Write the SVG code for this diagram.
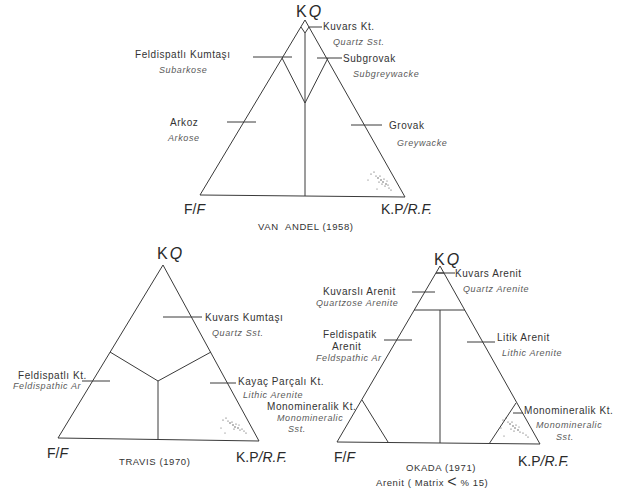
<svg xmlns="http://www.w3.org/2000/svg" width="623" height="492" viewBox="0 0 623 492">
<style>
.ln{stroke:#3a3a3a;stroke-width:1;fill:none}
.t{font-family:"Liberation Sans",Arial,sans-serif;font-size:10px;fill:#333;letter-spacing:0.55px}
.i{font-family:"Liberation Sans",Arial,sans-serif;font-size:9px;font-style:italic;fill:#5a5a5a;letter-spacing:0.6px}
.v{font-family:"Liberation Sans",Arial,sans-serif;font-size:16px;fill:#2a2a2a}
.c{font-family:"Liberation Sans",Arial,sans-serif;font-size:14px;fill:#2a2a2a}
.ti{font-family:"Liberation Sans",Arial,sans-serif;font-size:9.5px;fill:#333;letter-spacing:0.6px}
.it{font-style:italic}
.d{fill:#444}
</style>
<rect width="623" height="492" fill="#fff"/>

<!-- ===== VAN ANDEL (1958) ===== -->
<g id="vanandel-triangle">
<path class="ln" d="M305,20 L200,195 L405,197 Z"/>
<path class="ln" d="M301,27 L305,33 L309,27"/>
<path class="ln" d="M305,33 L305,196"/>
<path class="ln" d="M282,58 L305,103 L328,58"/>
</g>
<g id="connectors">
<path class="ln" d="M309,27 L322,27"/>
<path class="ln" d="M253,57 L292,57"/>
<path class="ln" d="M317,58 L342,58"/>
<path class="ln" d="M227,122 L256,122"/>
<path class="ln" d="M351,125 L382,125"/>
<path class="ln" d="M163,317 L202,317"/>
<path class="ln" d="M82,381 L110,381"/>
<path class="ln" d="M210,383 L236,383"/>
<path class="ln" d="M436,273 L455,273"/>
<path class="ln" d="M412,292 L435,292"/>
<path class="ln" d="M384,340 L412,340"/>
<path class="ln" d="M467,342 L495,342"/>
<path class="ln" d="M513,413 L523,413"/>
</g>
<g id="vanandel-labels">
<text class="v" x="296" y="17">K<tspan class="it" dx="2">Q</tspan></text>
<text class="t" x="323" y="30">Kuvars  Kt.</text>
<text class="i" x="333" y="45">Quartz  Sst.</text>
<text class="t" x="135" y="58">Feldispatlı  Kumtaşı</text>
<text class="i" x="159" y="73">Subarkose</text>
<text class="t" x="343" y="62">Subgrovak</text>
<text class="i" x="353" y="77">Subgreywacke</text>
<text class="t" x="170" y="126">Arkoz</text>
<text class="i" x="168" y="141">Arkose</text>
<text class="t" x="389" y="129">Grovak</text>
<text class="i" x="397" y="146">Greywacke</text>
<text class="c" x="184" y="214">F/<tspan class="it">F</tspan></text>
<text class="c" x="381" y="214">K.P<tspan class="it">/R.F.</tspan></text>
<text class="ti" x="258" y="230">VAN</text>
<text class="ti" x="285" y="230">ANDEL (1958)</text>
</g>
<g id="vanandel-dots" class="d">
<circle cx="371" cy="174" r="0.6"/><circle cx="374" cy="172" r="0.6"/><circle cx="376" cy="176" r="0.6"/>
<circle cx="378" cy="178" r="0.7"/><circle cx="380" cy="176" r="0.6"/><circle cx="381" cy="180" r="0.7"/>
<circle cx="383" cy="182" r="0.7"/><circle cx="384" cy="179" r="0.6"/><circle cx="386" cy="184" r="0.7"/>
<circle cx="385" cy="186" r="0.6"/><circle cx="388" cy="185" r="0.6"/><circle cx="389" cy="188" r="0.6"/>
<circle cx="391" cy="190" r="0.6"/><circle cx="382" cy="184" r="0.6"/><circle cx="368" cy="180" r="0.5"/>
<circle cx="377" cy="189" r="0.5"/><circle cx="379" cy="182" r="0.6"/><circle cx="387" cy="181" r="0.5"/>
</g>

<!-- ===== TRAVIS (1970) ===== -->
<g id="travis-triangle">
<path class="ln" d="M163,265 L58,438 L259,441 Z"/>
<path class="ln" d="M110,352 L158,381 L211,352"/>
<path class="ln" d="M158,381 L158,440"/>
</g>
<g id="travis-labels">
<text class="v" x="157" y="259">K<tspan class="it" dx="2">Q</tspan></text>
<text class="t" x="205" y="321">Kuvars  Kumtaşı</text>
<text class="i" x="212" y="336">Quartz  Sst.</text>
<text class="t" x="18" y="379">Feldispatlı Kt.</text>
<text class="i" x="13" y="389">Feldispathic Ar</text>
<text class="t" x="238" y="385">Kayaç  Parçalı  Kt.</text>
<text class="i" x="243" y="398">Lithic  Arenite</text>
<text class="c" x="47" y="458">F/<tspan class="it">F</tspan></text>
<text class="c" x="236" y="462">K.P<tspan class="it">/R.F.</tspan></text>
<text class="ti" x="119" y="465">TRAVIS  (1970)</text>
</g>
<g id="travis-dots" class="d">
<circle cx="223" cy="420" r="0.6"/><circle cx="226" cy="418" r="0.6"/><circle cx="228" cy="421" r="0.6"/>
<circle cx="230" cy="423" r="0.7"/><circle cx="232" cy="422" r="0.6"/><circle cx="233" cy="425" r="0.7"/>
<circle cx="235" cy="427" r="0.7"/><circle cx="236" cy="424" r="0.6"/><circle cx="238" cy="428" r="0.7"/>
<circle cx="240" cy="430" r="0.6"/><circle cx="242" cy="429" r="0.6"/><circle cx="244" cy="431" r="0.6"/>
<circle cx="234" cy="429" r="0.6"/><circle cx="221" cy="428" r="0.5"/><circle cx="225" cy="433" r="0.5"/>
<circle cx="239" cy="425" r="0.5"/><circle cx="246" cy="433" r="0.6"/>
</g>

<!-- ===== OKADA (1971) ===== -->
<g id="okada-triangle">
<path class="ln" d="M440,266 L337,442 L540,444 Z"/>
<path class="ln" d="M436,273 L444,273"/>
<path class="ln" d="M414,310 L465,310"/>
<path class="ln" d="M440,310 L440,443"/>
<path class="ln" d="M362,400 L388,442"/>
<path class="ln" d="M516,403 L489,444"/>
</g>
<g id="okada-labels">
<text class="v" x="434" y="265">K<tspan class="it" dx="2">Q</tspan></text>
<text class="t" x="455" y="277">Kuvars Arenit</text>
<text class="i" x="463" y="292">Quartz  Arenite</text>
<text class="t" x="323" y="295">Kuvarslı Arenit</text>
<text class="i" x="316" y="306">Quartzose  Arenite</text>
<text class="t" x="323" y="338">Feldispatik</text>
<text class="t" x="332" y="350">Arenit</text>
<text class="i" x="316" y="361">Feldspathic Ar</text>
<text class="t" x="497" y="341">Litik Arenit</text>
<text class="i" x="502" y="356">Lithic  Arenite</text>
<text class="t" x="267" y="410">Monomineralik Kt.</text>
<text class="i" x="277" y="421">Monomineralic</text>
<text class="i" x="288" y="432">Sst.</text>
<text class="t" x="524" y="414">Monomineralik Kt.</text>
<text class="i" x="536" y="428">Monomineralic</text>
<text class="i" x="556" y="440">Sst.</text>
<text class="c" x="334" y="462">F/<tspan class="it">F</tspan></text>
<text class="c" x="518" y="466">K.P<tspan class="it">/R.F.</tspan></text>
<text class="ti" x="406" y="471">OKADA  (1971)</text>
<text class="ti" x="376" y="486">Arenit  ( Matrix <tspan font-size="16" dy="1">&lt;</tspan><tspan dy="-1"> % 15)</tspan></text>
</g>
<g id="okada-dots" class="d">
<circle cx="503" cy="420" r="0.6"/><circle cx="506" cy="418" r="0.6"/><circle cx="508" cy="422" r="0.6"/>
<circle cx="510" cy="424" r="0.7"/><circle cx="512" cy="422" r="0.6"/><circle cx="513" cy="426" r="0.7"/>
<circle cx="515" cy="428" r="0.7"/><circle cx="516" cy="425" r="0.6"/><circle cx="518" cy="430" r="0.7"/>
<circle cx="520" cy="432" r="0.6"/><circle cx="523" cy="433" r="0.6"/><circle cx="526" cy="435" r="0.6"/>
<circle cx="514" cy="431" r="0.6"/><circle cx="501" cy="428" r="0.5"/><circle cx="504" cy="436" r="0.5"/>
<circle cx="519" cy="427" r="0.5"/><circle cx="528" cy="437" r="0.6"/><circle cx="511" cy="429" r="0.6"/>
</g>
</svg>
